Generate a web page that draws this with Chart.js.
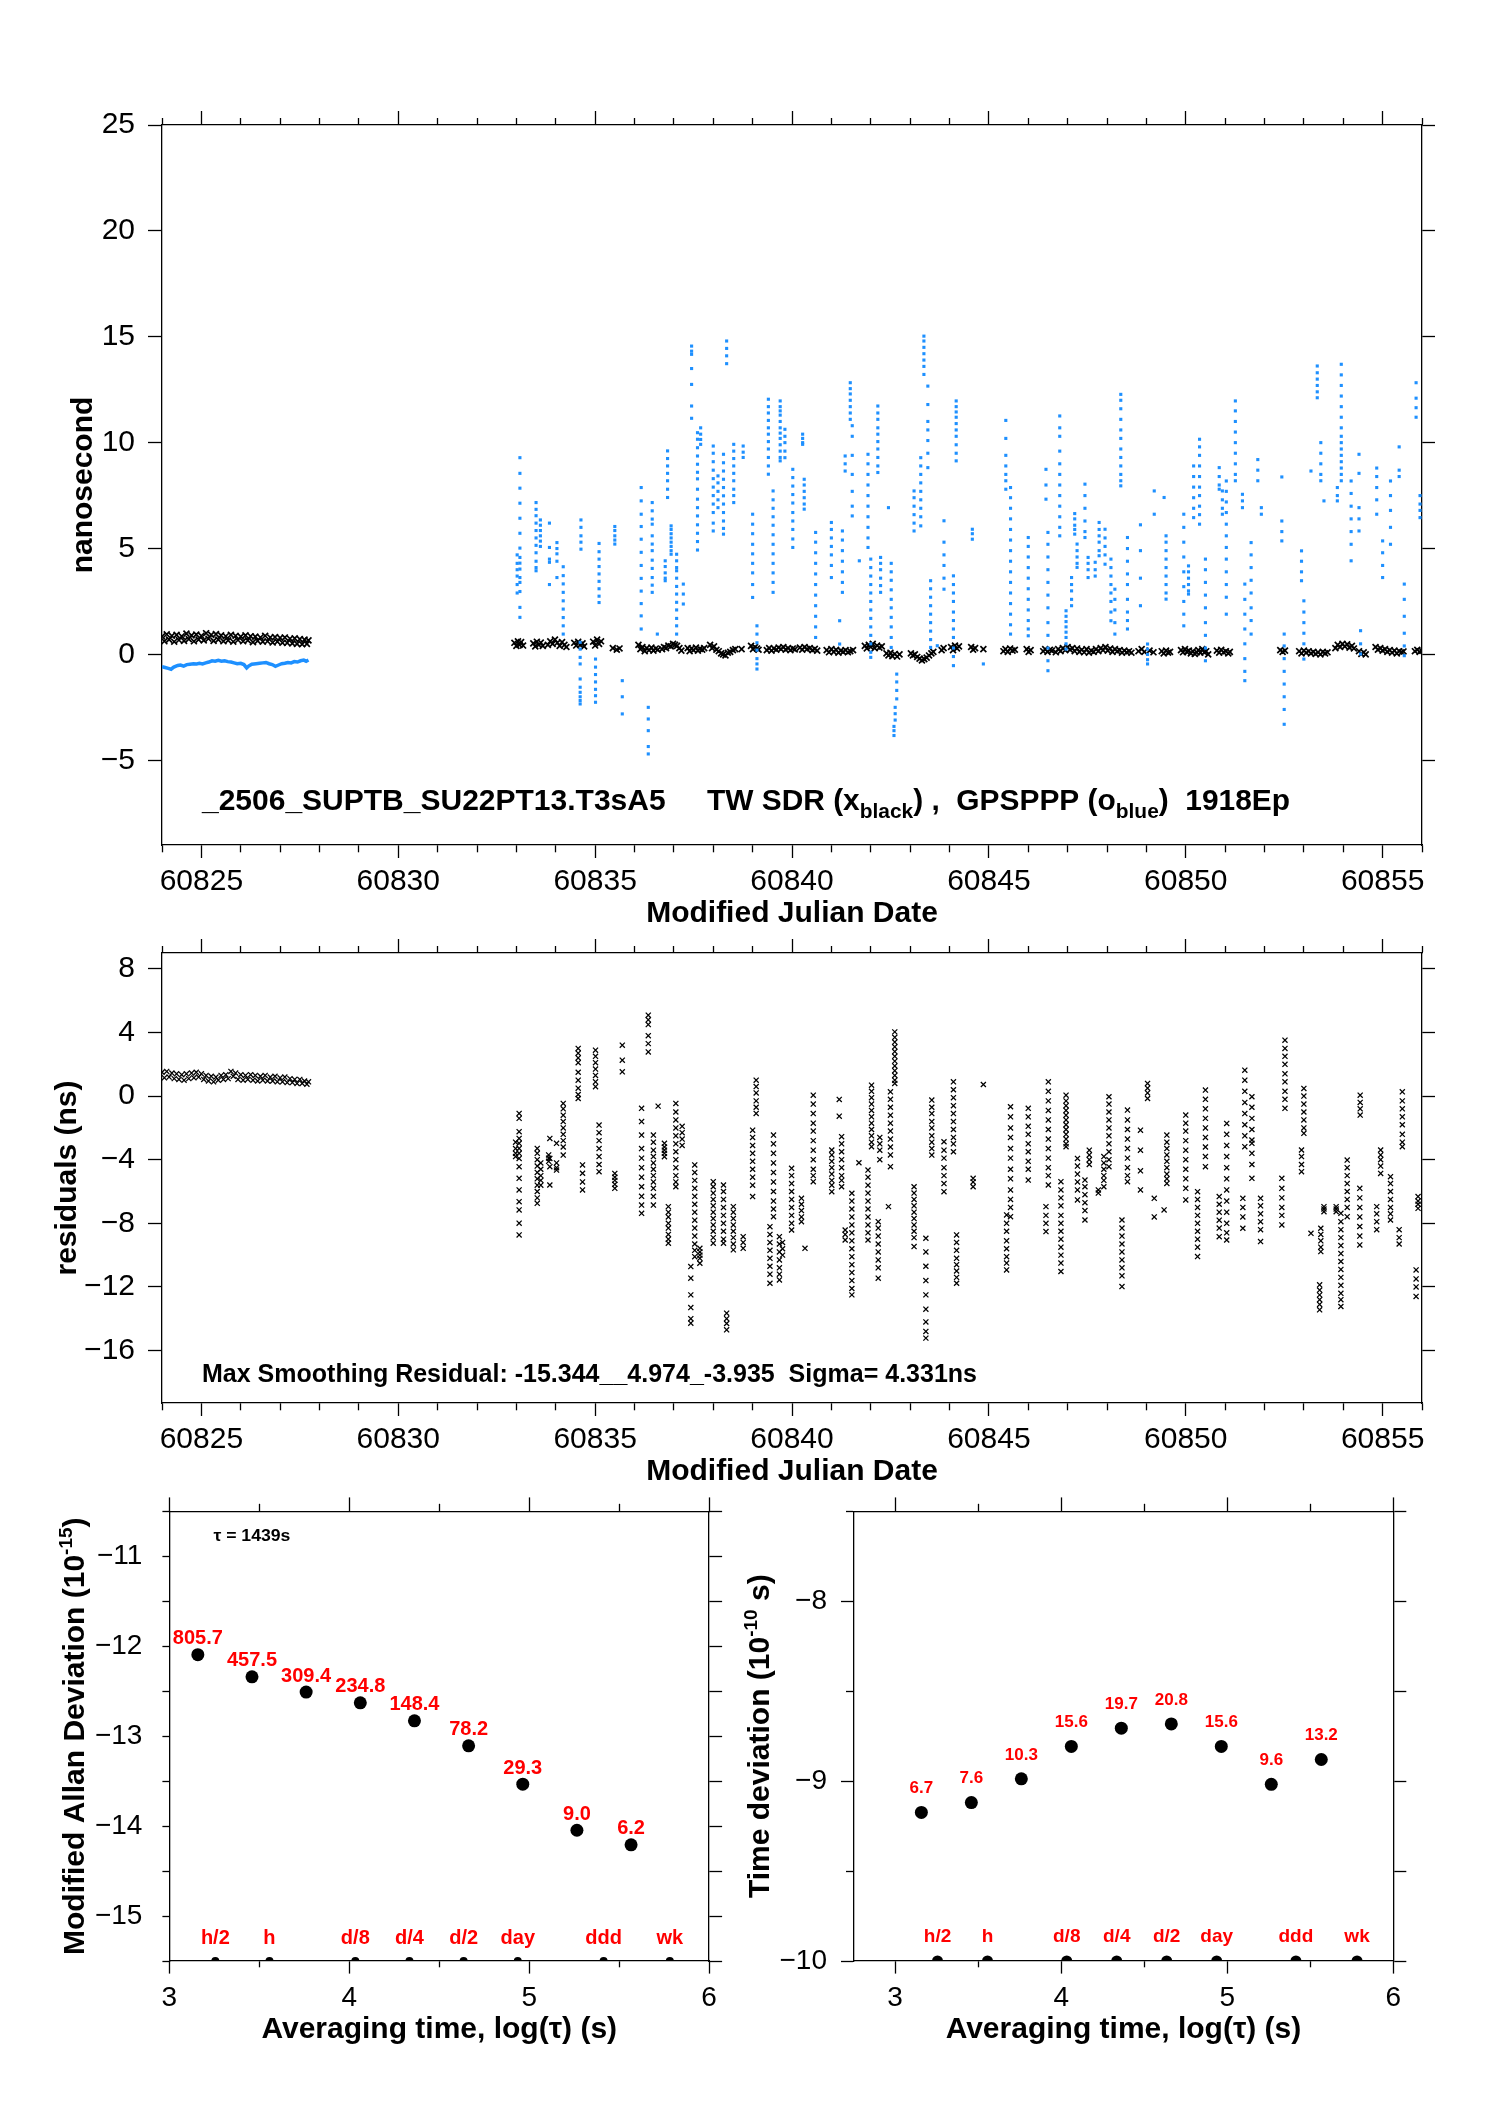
<!DOCTYPE html>
<html><head><meta charset="utf-8">
<script src="https://cdn.jsdelivr.net/npm/chart.js@4.4.1/dist/chart.umd.min.js"></script>
<style>
html,body{margin:0;padding:0;background:#fff;}
body{width:1488px;height:2105px;position:relative;overflow:hidden;}
canvas{position:absolute;}
</style></head><body>
<canvas id="c1" width="1488" height="960" style="left:0px;top:0px"></canvas>
<canvas id="c2" width="1488" height="640" style="left:0px;top:860px"></canvas>
<canvas id="c3" width="744" height="665" style="left:0px;top:1440px"></canvas>
<canvas id="c4" width="788" height="665" style="left:700px;top:1440px"></canvas>
<script>
// ---------------- DATA ----------------
// Top panel: GPSPPP (blue) early dense band [mjd, ns]
const gpsEarly = [[60824.00,-0.58],[60824.08,-0.62],[60824.16,-0.66],[60824.23,-0.70],[60824.30,-0.60],[60824.40,-0.52],[60824.47,-0.50],[60824.55,-0.55],[60824.63,-0.48],[60824.71,-0.46],[60824.80,-0.44],[60824.88,-0.45],[60824.95,-0.42],[60825.03,-0.45],[60825.11,-0.40],[60825.19,-0.36],[60825.27,-0.30],[60825.35,-0.32],[60825.43,-0.28],[60825.51,-0.32],[60825.59,-0.30],[60825.67,-0.34],[60825.75,-0.36],[60825.83,-0.40],[60825.91,-0.44],[60826.00,-0.42],[60826.08,-0.48],[60826.15,-0.64],[60826.20,-0.55],[60826.28,-0.46],[60826.39,-0.44],[60826.48,-0.42],[60826.56,-0.40],[60826.64,-0.38],[60826.72,-0.44],[60826.80,-0.48],[60826.88,-0.56],[60826.96,-0.50],[60827.04,-0.44],[60827.12,-0.42],[60827.20,-0.38],[60827.28,-0.40],[60827.36,-0.34],[60827.44,-0.36],[60827.52,-0.30],[60827.60,-0.27],[60827.66,-0.32],[60827.72,-0.26]];
// Top panel: GPSPPP streaks, each [mjd, ns values...]
const gpsStreaks = [
[60833.09,9.29,8.55,7.85,7.14,6.43,5.72,5.02,4.58,4.31,4.03,3.63,3.40,2.97,2.22,1.75],
[60833.02,4.70,4.30,4.00,3.70,3.30,2.90],
[60833.50,7.17,6.85,6.55,6.20,5.85,5.50,5.15,4.80,4.40,4.10,3.95],
[60833.61,6.35,6.10,5.85,5.60,5.35,5.10],
[60833.84,6.20,5.05,4.50,4.35,3.30],
[60834.03,5.28,5.00,4.75,4.40,3.63],
[60834.19,4.14,3.72,3.33,2.93,2.53,2.14,1.74,1.35,0.96],
[60834.64,6.35,6.00,5.60,5.30,4.97],
[60834.62,0.57,0.25,-0.14,-0.45,-1.16,-1.55,-1.79,-2.00,-2.18,-2.34],
[60835.10,5.24,4.85,4.50,4.15,3.80,3.45,3.10,2.75,2.45],
[60835.01,-0.22,-0.60,-0.95,-1.30,-1.65,-1.95,-2.26],
[60835.50,6.04,5.85,5.60,5.40,5.21],
[60835.69,-1.24,-2.00,-2.81],
[60836.17,7.88,7.25,6.62,6.04,5.44,4.82,4.20,3.59,2.99,2.40,1.82,1.20],
[60836.35,-2.50,-3.05,-3.60,-4.35,-4.70],
[60836.45,7.17,6.78,6.39,6.15,5.60,5.21,4.90,4.45,4.06,3.63,3.27,2.93],
[60836.58,0.96],
[60836.78,4.42,4.15,3.85,3.60,3.48],
[60836.84,9.61,9.25,8.90,8.55,8.20,7.80,7.41],
[60836.93,6.07,5.90,5.70,5.50,5.30,5.10,4.90,4.73],
[60837.07,4.73,4.42,4.10,3.95,3.60,3.21,2.85,2.46,2.10,1.70,1.35,0.96],
[60837.24,3.32,2.85,2.38],
[60837.45,14.56,14.32,14.17,13.50,12.75,11.73,11.15],
[60837.60,10.47,10.16,9.76,9.37,8.98,8.60,8.29,7.80,7.33,6.93,6.54,6.12,5.72,5.33,4.93],
[60837.68,10.70,10.40,10.15,9.92],
[60838.00,9.84,9.50,9.10,8.70,8.30,7.90,7.50,7.10,6.70,6.20,5.83],
[60838.12,8.43,8.10,7.70,7.30,6.93],
[60838.26,9.45,9.05,8.66,8.27,7.88,7.49,7.10,6.70,6.30,5.95,5.68],
[60838.34,14.80,14.45,14.10,13.73],
[60838.52,9.92,9.60,9.25,8.90,8.55,8.20,7.80,7.50,7.17],
[60838.76,9.84,9.55,9.30],
[60839.00,6.62,6.15,5.70,5.20,4.75,4.30,3.85,3.30,2.69],
[60839.11,1.35,0.96,0.55,0.20,-0.20,-0.45,-0.69],
[60839.40,12.05,11.70,11.40,11.05,10.70,10.40,10.05,9.70,9.30,8.90,8.51],
[60839.52,7.72,7.30,6.90,6.50,6.10,5.65,5.20,4.75,4.30,3.85,3.40,2.93],
[60839.70,11.97,11.70,11.50,11.30,11.00,10.70,10.45,10.20,9.90,9.60,9.30,9.14],
[60839.82,10.63,10.30,10.00,9.60,9.29],
[60840.02,8.74,8.35,7.95,7.55,7.15,6.70,6.30,5.90,5.45,5.05],
[60840.27,10.40,10.20,10.00,9.92],
[60840.31,8.27,8.00,7.70,7.40,7.10,6.86],
[60840.60,5.76,5.30,4.80,4.30,3.80,3.30,2.80,2.30,1.80,1.30,0.80],
[60841.00,6.23,5.90,5.50,5.10,4.70,4.20,3.63],
[60841.21,1.59,0.49],
[60841.28,5.83,5.40,4.90,4.40,3.90,3.40,2.93],
[60841.35,9.37,9.00,8.66],
[60841.48,12.83,12.55,12.30,12.00,11.70,11.40,11.10],
[60841.53,10.80,10.30,9.40,8.50,7.70,7.00,6.54],
[60841.71,4.42],
[60841.93,9.45,9.00,8.50,8.00,7.50,7.00,6.50,6.00,5.50,5.05],
[60842.00,4.50,4.10,3.70,3.30,2.90,2.50,2.10,1.70,1.30,0.90,0.50,0.10,-0.14],
[60842.18,11.73,11.40,11.10,10.70,10.40,10.05,9.70,9.30,8.90,8.59],
[60842.25,4.58,4.30,4.00,3.60,3.25,2.93],
[60842.45,6.93],
[60842.52,4.30,3.90,3.50,3.05,2.60,2.20,1.75,1.30,0.80,0.33],
[60842.66,-0.93,-1.30,-1.70,-2.10],
[60842.62,-2.50,-2.80,-3.10],
[60842.59,-3.40,-3.60,-3.83],
[60843.10,7.72,7.40,7.00,6.60,6.20,5.83],
[60843.27,9.29,8.90,8.50,8.10,7.70,7.30,6.90,6.50,6.07],
[60843.35,15.03,14.80,14.50,14.20,13.90,13.60,13.22],
[60843.45,12.67,11.80,11.00,10.60,10.10,9.50,8.82],
[60843.52,3.48,3.10,2.70,2.30,1.90,1.50,1.10,0.70,0.33],
[60843.69,0.41],
[60843.86,6.31,5.30,4.70,4.20,3.60,3.08],
[60844.10,3.71,3.30,2.90,2.50,2.00,1.60,1.20,0.80,0.30,-0.10,-0.53],
[60844.17,11.97,11.70,11.45,11.20,10.90,10.60,10.30,9.90,9.50,9.14],
[60844.58,5.91,5.70,5.44],
[60844.86,-0.45],
[60845.43,11.05,10.20,9.40,8.90,8.50,8.20,7.80],
[60845.55,7.88,7.40,6.90,6.40,5.90,5.40,4.90,4.40,3.90,3.40,2.90,2.40,1.90,1.40,0.96],
[60846.00,5.52,5.10,4.60,4.10,3.60,3.10,2.60,2.10,1.60,1.20,0.88],
[60846.45,8.74,8.00,7.33],
[60846.50,5.76,5.20,4.60,4.00,3.40,2.80,2.20,1.50,0.90,0.30,-0.30,-0.77],
[60846.80,11.26,10.70,10.30,9.60,9.00,8.50,8.00,7.50,7.00,6.50,6.00,5.60],
[60846.96,2.06,1.80,1.55,1.30,1.05,0.80,0.50,0.25],
[60847.10,3.63,3.30,3.00,2.60,2.30],
[60847.18,6.65,6.40,6.10,5.90,5.68],
[60847.24,5.21,4.90,4.60,4.30,4.11],
[60847.44,8.04,7.50,6.90,6.30,5.80,5.52],
[60847.52,4.58,4.30,4.00,3.63],
[60847.70,4.35,4.00,3.70],
[60847.80,6.23,5.90,5.60,5.30,4.90,4.66],
[60847.95,5.91,5.50,5.10,4.70,4.26],
[60848.10,4.50,4.10,3.70,3.30,2.90,2.50,2.00,1.59],
[60848.20,3.08,2.60,2.10,1.50,0.96],
[60848.35,12.28,12.00,11.60,11.10,10.60,10.20,9.70,9.30,8.90,8.50,8.20,7.96],
[60848.52,5.52,5.00,4.40,3.80,3.30,2.60,2.00,1.60,1.20],
[60848.85,6.12,4.90,3.60,2.30],
[60849.03,0.49,0.25,0.00,-0.25,-0.45],
[60849.20,7.72,6.62],
[60849.45,7.41],
[60849.50,5.60,5.30,4.90,4.50,4.10,3.70,3.30,2.90,2.61],
[60849.95,6.62,6.00,5.30,4.60,3.90,3.20,2.50,1.90,1.35],
[60850.07,4.18,3.90,3.60,3.30,3.00,2.85],
[60850.20,8.90,8.40,7.90,7.40,6.90,6.46],
[60850.35,10.16,9.80,9.40,8.90,8.40,7.90,7.50,7.00,6.60,6.15],
[60850.50,4.50,4.00,3.40,2.80,2.20,1.50,0.90,0.30,-0.30],
[60850.85,8.82,8.40,8.00,7.80],
[60850.93,7.72,7.30,6.90,6.62],
[60851.03,8.19,7.70,7.20,6.70,6.15,5.60,5.05,4.50,3.90,3.30,2.70,1.90],
[60851.26,11.97,11.50,11.00,10.50,10.00,9.50,9.00,8.50,8.20],
[60851.44,7.56,7.25,6.93],
[60851.50,3.32,2.60,1.90,1.20,0.50,-0.20,-0.80,-1.24],
[60851.66,5.28,4.70,4.10,3.50,2.90,2.20,1.60,0.96],
[60851.83,9.20,8.70,8.20],
[60851.92,6.93,6.62],
[60852.44,8.38,6.30,5.80,5.36],
[60852.50,0.96,0.40,-0.20,-0.80,-1.40,-2.00,-2.60,-3.30],
[60852.94,4.89,4.40,3.90,3.48],
[60853.00,2.53,2.00,1.50,1.00,0.50,-0.22],
[60853.18,8.66],
[60853.34,13.62,13.30,13.00,12.70,12.40,12.12],
[60853.43,10.00,9.50,9.00,8.50,8.20],
[60853.51,7.25],
[60853.85,7.88,7.50,7.25],
[60853.95,13.70,13.20,12.70,12.20,11.70,11.20,10.70,10.30,10.00,9.70,9.40,9.10,8.80,8.50,8.20],
[60854.20,8.19,7.60,7.00,6.40,5.80,5.20,4.42],
[60854.40,9.45,8.55,6.93,6.40,5.83],
[60854.44,1.12,0.50,0.02],
[60854.85,8.80,8.40,7.88,7.30,6.62],
[60855.00,5.36,4.80,4.20,3.63],
[60855.20,8.19,7.50,6.80,6.00,5.20],
[60855.42,9.80,8.70,8.40],
[60855.55,3.32,2.60,1.80,1.00,0.40,-0.06],
[60855.85,12.83,12.10,11.65,11.20],
[60855.95,7.50,7.10,6.80,6.46]
];
// Top panel: TW SDR (black x) [mjd, ns]
const sdrEarly = [[60824.00,0.85],[60824.06,0.62],[60824.12,0.95],[60824.18,0.70],[60824.25,0.88],[60824.31,0.60],[60824.37,0.92],[60824.43,0.68],[60824.50,0.86],[60824.56,0.64],[60824.62,0.98],[60824.68,0.72],[60824.75,0.90],[60824.81,0.62],[60824.87,0.94],[60824.93,0.70],[60825.00,0.88],[60825.06,0.66],[60825.12,1.00],[60825.18,0.74],[60825.25,0.92],[60825.31,0.64],[60825.37,0.96],[60825.43,0.70],[60825.50,0.90],[60825.56,0.62],[60825.62,0.86],[60825.68,0.66],[60825.75,0.92],[60825.81,0.60],[60825.87,0.88],[60825.93,0.68],[60826.00,0.84],[60826.06,0.62],[60826.12,0.90],[60826.18,0.66],[60826.25,0.86],[60826.31,0.58],[60826.37,0.84],[60826.43,0.64],[60826.50,0.80],[60826.56,0.60],[60826.62,0.88],[60826.68,0.62],[60826.75,0.80],[60826.81,0.56],[60826.87,0.82],[60826.93,0.60],[60827.00,0.78],[60827.06,0.55],[60827.12,0.80],[60827.18,0.54],[60827.25,0.74],[60827.31,0.52],[60827.37,0.76],[60827.43,0.50],[60827.50,0.72],[60827.56,0.48],[60827.62,0.70],[60827.68,0.50],[60827.72,0.66]];
const sdrLater = [[60832.95,0.55],[60833.00,0.40],[60833.04,0.62],[60833.08,0.45],[60833.12,0.58],[60833.17,0.42],
[60833.43,0.52],[60833.48,0.38],[60833.52,0.60],[60833.57,0.45],[60833.62,0.56],[60833.67,0.40],
[60833.80,0.45],[60833.86,0.62],[60833.92,0.50],[60833.98,0.70],[60834.04,0.55],[60834.10,0.40],[60834.16,0.58],[60834.22,0.45],[60834.27,0.35],
[60834.47,0.55],[60834.52,0.42],[60834.57,0.60],[60834.62,0.45],[60834.68,0.52],[60834.72,0.38],
[60834.95,0.60],[60835.00,0.42],[60835.05,0.70],[60835.10,0.50],[60835.15,0.62],
[60835.45,0.30],[60835.55,0.22],[60835.62,0.28],
[60836.10,0.45],[60836.15,0.25],[60836.20,0.35],[60836.26,0.15],[60836.31,0.30],[60836.37,0.20],[60836.43,0.32],[60836.48,0.18],[60836.54,0.28],[60836.59,0.22],
[60836.70,0.25],[60836.75,0.35],[60836.80,0.30],[60836.86,0.42],[60836.92,0.38],[60836.98,0.50],[60837.03,0.45],[60837.08,0.40],[60837.14,0.30],[60837.19,0.18],
[60837.35,0.30],[60837.40,0.15],[60837.45,0.28],[60837.50,0.20],[60837.56,0.32],[60837.61,0.18],[60837.66,0.26],[60837.72,0.22],[60837.77,0.30],
[60837.92,0.45],[60837.97,0.30],[60838.02,0.38],[60838.08,0.22],[60838.14,0.15],[60838.20,0.05],[60838.25,0.00],[60838.31,-0.05],[60838.37,0.08],[60838.43,0.12],[60838.50,0.20],[60838.56,0.25],
[60838.72,0.25],
[60838.96,0.40],[60839.01,0.25],[60839.06,0.35],[60839.11,0.28],[60839.15,0.22],
[60839.36,0.20],[60839.42,0.30],[60839.48,0.18],[60839.54,0.28],[60839.60,0.22],[60839.66,0.32],[60839.72,0.25],[60839.78,0.35],[60839.84,0.22],[60839.90,0.30],[60839.96,0.20],[60840.02,0.28],[60840.07,0.24],
[60840.20,0.32],[60840.26,0.22],[60840.32,0.35],[60840.38,0.25],[60840.45,0.30],[60840.52,0.20],[60840.58,0.26],[60840.64,0.18],
[60840.88,0.20],[60840.94,0.10],[60841.00,0.25],[60841.06,0.12],[60841.12,0.22],[60841.18,0.08],[60841.24,0.18],[60841.30,0.12],[60841.36,0.20],[60841.42,0.10],[60841.48,0.15],[60841.55,0.20],
[60841.85,0.40],[60841.90,0.28],[60841.95,0.45],[60842.00,0.35],[60842.05,0.50],[60842.10,0.30],[60842.16,0.42],[60842.22,0.32],[60842.28,0.38],
[60842.40,0.05],[60842.45,-0.05],[60842.50,0.08],[60842.55,-0.08],[60842.61,0.02],[60842.67,-0.10],[60842.73,0.00],
[60843.02,0.05],[60843.07,-0.05],[60843.12,0.00],[60843.18,-0.12],[60843.24,-0.20],[60843.30,-0.28],[60843.36,-0.22],[60843.42,-0.15],[60843.48,-0.05],[60843.54,0.05],[60843.59,0.12],
[60843.80,0.20],[60843.85,0.30],
[60844.04,0.35],[60844.09,0.20],[60844.14,0.42],[60844.19,0.28],[60844.24,0.38],
[60844.55,0.35],[60844.60,0.22],[60844.65,0.30],[60844.86,0.25],
[60845.37,0.15],[60845.42,0.25],[60845.48,0.12],[60845.54,0.28],[60845.60,0.18],[60845.66,0.22],
[60845.96,0.25],[60846.01,0.12],[60846.06,0.20],
[60846.38,0.15],[60846.43,0.25],[60846.49,0.12],[60846.55,0.22],[60846.60,0.18],
[60846.70,0.10],[60846.76,0.25],[60846.82,0.15],[60846.88,0.30],[60846.94,0.20],[60847.00,0.35],[60847.06,0.22],[60847.12,0.30],[60847.18,0.15],[60847.24,0.28],[60847.30,0.12],[60847.36,0.22],[60847.42,0.10],[60847.48,0.25],[60847.54,0.08],[60847.60,0.18],[60847.66,0.12],[60847.72,0.25],[60847.78,0.15],[60847.84,0.30],[60847.90,0.20],[60847.96,0.35],[60848.02,0.18],[60848.08,0.28],[60848.14,0.12],[60848.20,0.25],[60848.26,0.15],[60848.32,0.20],[60848.38,0.08],[60848.44,0.18],[60848.50,0.10],[60848.56,0.15],[60848.62,0.08],
[60848.80,0.15],[60848.88,0.25],[60848.95,0.12],[60849.08,0.18],[60849.18,0.10],
[60849.39,0.15],[60849.44,0.05],[60849.50,0.18],[60849.55,0.08],[60849.60,0.12],
[60849.88,0.20],[60849.93,0.10],[60849.98,0.25],[60850.03,0.12],[60850.08,0.18],[60850.13,0.05],[60850.18,0.15],[60850.23,0.02],[60850.28,0.10],
[60850.32,0.20],[60850.37,0.08],[60850.42,0.25],[60850.47,0.10],[60850.52,0.15],[60850.57,0.00],
[60850.79,0.18],[60850.85,0.08],[60850.90,0.22],[60850.96,0.10],[60851.02,0.15],[60851.08,0.05],[60851.12,0.12],
[60852.40,0.20],[60852.46,0.12],[60852.52,0.18],
[60852.88,0.15],[60852.94,0.05],[60853.00,0.18],[60853.06,0.08],[60853.12,0.15],[60853.18,0.05],[60853.24,0.12],[60853.30,0.02],[60853.36,0.10],[60853.42,0.00],[60853.48,0.12],[60853.54,0.05],[60853.60,0.10],
[60853.80,0.30],[60853.86,0.45],[60853.92,0.35],[60853.98,0.50],[60854.04,0.38],[60854.10,0.48],[60854.16,0.32],[60854.22,0.40],[60854.27,0.28],
[60854.40,0.15],[60854.46,0.02],[60854.52,0.10],[60854.57,0.00],
[60854.82,0.35],[60854.88,0.22],[60854.94,0.30],[60855.00,0.18],[60855.06,0.25],[60855.12,0.12],[60855.18,0.20],[60855.24,0.08],[60855.30,0.18],[60855.36,0.05],[60855.42,0.15],[60855.48,0.10],[60855.53,0.14],
[60855.82,0.15],[60855.88,0.22],[60855.94,0.12],[60855.99,0.18]];
// Middle panel: smoothing residuals (ns)
const resEarly = [[60824.00,1.50],[60824.06,1.15],[60824.12,1.55],[60824.18,1.20],[60824.25,1.45],[60824.31,1.10],[60824.37,1.40],[60824.43,1.05],[60824.50,1.35],[60824.56,1.00],[60824.62,1.40],[60824.68,1.10],[60824.75,1.45],[60824.81,1.15],[60824.87,1.50],[60824.93,1.20],[60825.00,1.40],[60825.06,1.05],[60825.12,1.30],[60825.18,0.95],[60825.25,1.25],[60825.31,0.90],[60825.37,1.20],[60825.43,1.00],[60825.50,1.30],[60825.56,1.05],[60825.62,1.35],[60825.68,1.10],[60825.75,1.55],[60825.81,1.25],[60825.87,1.45],[60825.93,1.05],[60826.00,1.35],[60826.06,1.00],[60826.12,1.30],[60826.18,1.05],[60826.25,1.35],[60826.31,1.00],[60826.37,1.30],[60826.43,0.95],[60826.50,1.25],[60826.56,1.00],[60826.62,1.30],[60826.68,0.95],[60826.75,1.20],[60826.81,0.95],[60826.87,1.25],[60826.93,0.90],[60827.00,1.15],[60827.06,0.90],[60827.12,1.20],[60827.18,0.85],[60827.25,1.10],[60827.31,0.85],[60827.37,1.05],[60827.43,0.80],[60827.50,1.05],[60827.56,0.80],[60827.62,0.95],[60827.68,0.75],[60827.72,0.90]];
const resStreaks = [
[60832.98,-2.90,-3.30,-3.60,-3.80],
[60833.07,-1.09,-1.40,-2.24,-2.66,-2.97,-3.29,-3.60,-3.92,-4.44,-5.17,-5.90,-6.64,-7.16,-7.99,-8.73],
[60833.53,-3.29,-3.60,-4.00,-4.40,-4.80,-5.20,-5.60,-6.00,-6.40,-6.74],
[60833.62,-4.20,-4.60,-5.00,-5.30,-5.60],
[60833.85,-2.66,-3.92,-4.44,-5.59],
[60833.82,-3.70,-3.90,-4.10],
[60834.02,-2.97,-4.20,-4.50,-4.65],
[60834.19,-0.46,-0.80,-1.20,-1.60,-2.00,-2.40,-2.80,-3.20,-3.71],
[60834.57,3.00,2.70,2.40,2.10,1.50,1.00,0.50,0.10,-0.15],
[60834.68,-4.33,-4.85,-5.40,-5.90],
[60835.01,2.89,2.50,2.10,1.70,1.30,0.90,0.59],
[60835.10,-1.82,-2.30,-2.80,-3.30,-3.80,-4.30,-4.75],
[60835.50,-4.86,-5.10,-5.30,-5.55,-5.80],
[60835.69,3.20,2.26,1.53],
[60836.18,-0.77,-1.60,-2.45,-3.30,-3.90,-4.50,-5.10,-5.70,-6.30,-6.85,-7.37],
[60836.35,5.09,4.80,4.50,3.80,3.30,2.78],
[60836.48,-2.45,-2.90,-3.40,-3.80,-4.20,-4.60,-5.00,-5.40,-5.80,-6.30,-6.85],
[60836.60,-0.63],
[60836.76,-2.97,-3.20,-3.40,-3.60,-3.81],
[60836.86,-6.95,-7.30,-7.60,-8.00,-8.30,-8.70,-9.00,-9.25],
[60837.05,-0.46,-1.00,-1.50,-2.00,-2.50,-3.00,-3.50,-4.00,-4.50,-5.00,-5.40,-5.70],
[60837.21,-1.90,-2.30,-2.70,-3.10],
[60837.43,-10.72,-11.45,-12.50,-13.30,-14.00,-14.28],
[60837.53,-4.33,-4.80,-5.30,-5.80,-6.30,-6.80,-7.30,-7.80,-8.30,-8.80,-9.30,-9.70,-10.10],
[60837.66,-9.57,-9.80,-10.00,-10.20,-10.51],
[60838.00,-5.38,-5.70,-6.10,-6.50,-6.90,-7.30,-7.70,-8.10,-8.50,-8.90,-9.25],
[60838.26,-5.59,-6.00,-6.50,-7.00,-7.50,-8.00,-8.50,-9.00,-9.25],
[60838.34,-13.65,-14.00,-14.30,-14.70],
[60838.51,-6.95,-7.30,-7.70,-8.10,-8.50,-8.90,-9.30,-9.67],
[60838.76,-8.84,-9.20,-9.57],
[60839.00,-2.14,-2.60,-3.10,-3.60,-4.10,-4.60,-5.10,-5.60,-6.32],
[60839.09,1.00,0.60,0.20,-0.30,-0.70,-1.09],
[60839.44,-8.21,-8.70,-9.20,-9.70,-10.20,-10.70,-11.20,-11.77],
[60839.53,-2.45,-3.00,-3.60,-4.20,-4.80,-5.40,-6.00,-6.60,-7.10,-7.58],
[60839.68,-8.84,-9.30,-9.80,-10.30,-10.80,-11.20,-11.56],
[60839.76,-9.20,-9.60,-10.00],
[60839.99,-4.54,-5.00,-5.50,-6.00,-6.50,-7.00,-7.50,-8.00,-8.42],
[60840.24,-6.43,-6.80,-7.20,-7.60,-7.90],
[60840.33,-9.57],
[60840.54,0.06,-0.50,-1.10,-1.70,-2.20,-2.80,-3.40,-4.00,-4.60,-5.00,-5.38],
[60841.01,-3.39,-3.70,-4.10,-4.50,-4.90,-5.30,-5.60,-6.01],
[60841.20,-0.21,-1.26],
[60841.26,-2.55,-3.00,-3.50,-4.00,-4.50,-5.00,-5.30,-5.70],
[60841.35,-8.42,-8.70,-9.05],
[60841.52,-6.11,-6.60,-7.10,-7.60,-8.10,-8.60,-9.10,-9.60,-10.10,-10.60,-11.10,-11.60,-12.10,-12.50],
[60841.70,-4.19],
[60841.93,-4.65,-5.10,-5.60,-6.10,-6.60,-7.10,-7.60,-8.10,-8.60,-9.05],
[60842.02,0.69,0.30,-0.10,-0.50,-0.90,-1.30,-1.70,-2.10,-2.50,-2.90,-3.18],
[60842.19,-7.90,-8.30,-8.80,-9.30,-9.80,-10.30,-10.80,-11.45],
[60842.23,-2.60,-3.00,-3.40,-4.00],
[60842.45,-6.95],
[60842.50,0.27,-0.20,-0.70,-1.20,-1.70,-2.20,-2.70,-3.20,-3.70,-4.44],
[60842.61,4.04,3.70,3.40,3.10,2.80,2.50,2.20,1.90,1.60,1.30,1.00,0.80],
[60843.10,-5.70,-6.10,-6.50,-6.90,-7.30,-7.70,-8.10,-8.50,-8.90,-9.46],
[60843.40,-8.94,-9.80,-10.70,-11.60,-12.50,-13.40,-14.20,-14.80,-15.22],
[60843.55,-0.25,-0.70,-1.10,-1.60,-2.00,-2.50,-2.90,-3.30,-3.71],
[60843.86,-2.87,-3.40,-3.90,-4.50,-5.00,-5.50,-6.01],
[60844.10,0.90,0.40,-0.10,-0.60,-1.10,-1.60,-2.10,-2.60,-3.00,-3.50],
[60844.18,-8.73,-9.20,-9.70,-10.20,-10.60,-11.00,-11.40,-11.77],
[60844.60,-5.17,-5.40,-5.70],
[60844.86,0.73],
[60845.45,-7.47,-8.00,-8.50,-9.10,-9.60,-10.10,-10.50,-10.93],
[60845.55,-0.67,-1.30,-2.00,-2.60,-3.30,-3.90,-4.60,-5.20,-5.90,-6.50,-7.00,-7.58],
[60846.00,-0.77,-1.30,-1.90,-2.40,-3.00,-3.50,-4.10,-4.60,-5.28],
[60846.45,-6.95,-7.50,-8.00,-8.52],
[60846.51,0.90,0.30,-0.30,-0.90,-1.50,-2.10,-2.70,-3.30,-3.90,-4.50,-5.00,-5.59],
[60846.83,-5.38,-5.90,-6.40,-6.90,-7.50,-8.00,-8.50,-9.00,-9.50,-10.00,-10.50,-11.03],
[60846.96,0.06,-0.30,-0.60,-0.90,-1.20,-1.50,-1.80,-2.10,-2.40,-2.70,-3.00,-3.18],
[60847.25,-3.92,-4.40,-4.90,-5.40,-5.90,-6.53],
[60847.44,-5.28,-5.70,-6.20,-6.70,-7.20,-7.79],
[60847.55,-3.40,-3.70,-4.00,-4.30],
[60847.78,-5.90,-6.10],
[60847.92,-3.80,-4.20,-4.60,-5.00,-5.30,-5.70],
[60848.05,-0.04,-0.50,-1.00,-1.50,-2.00,-2.50,-3.00,-3.50,-4.00,-4.44],
[60848.38,-7.79,-8.30,-8.80,-9.30,-9.80,-10.30,-10.80,-11.30,-11.98],
[60848.52,-0.88,-1.50,-2.10,-2.70,-3.30,-3.90,-4.50,-5.00,-5.38],
[60848.85,-2.14,-3.40,-4.70,-5.90],
[60849.03,0.80,0.50,0.20,-0.15],
[60849.20,-6.43,-7.60],
[60849.45,-7.16],
[60849.52,-2.45,-2.90,-3.30,-3.70,-4.10,-4.50,-4.90,-5.20,-5.49],
[60850.00,-1.19,-1.70,-2.20,-2.80,-3.40,-4.00,-4.60,-5.20,-5.80,-6.53],
[60850.30,-6.01,-6.50,-7.00,-7.50,-8.00,-8.50,-9.00,-9.50,-10.09],
[60850.50,0.38,-0.20,-0.80,-1.40,-2.00,-2.60,-3.20,-3.80,-4.44],
[60850.85,-6.32,-6.80,-7.30,-7.80,-8.30,-8.84],
[60851.04,-1.72,-2.40,-3.10,-3.80,-4.50,-5.20,-5.90,-6.60,-7.30,-8.00,-8.60,-9.05],
[60851.45,-6.43,-7.00,-7.60,-8.31],
[60851.50,1.63,1.00,0.30,-0.40,-1.10,-1.80,-2.50,-3.18],
[60851.68,-0.04,-0.70,-1.40,-2.10,-2.76,-2.97,-3.60,-4.30,-5.17],
[60851.90,-6.43,-6.90,-7.40,-7.90,-8.40,-9.15],
[60852.44,-5.17,-5.80,-6.40,-7.00,-7.50,-8.10],
[60852.52,3.52,3.00,2.50,2.00,1.40,0.90,0.30,-0.20,-0.77],
[60852.94,-3.39,-3.80,-4.30,-4.75],
[60853.00,0.48,0.00,-0.50,-1.00,-1.50,-2.00,-2.34],
[60853.18,-8.63],
[60853.40,-11.87,-12.20,-12.50,-12.80,-13.10,-13.44],
[60853.43,-8.31,-8.70,-9.10,-9.50,-9.78],
[60853.51,-6.95,-7.10,-7.27],
[60853.82,-6.95,-7.10,-7.27],
[60853.94,-7.37,-7.90,-8.40,-8.90,-9.40,-9.90,-10.40,-10.90,-11.40,-11.90,-12.40,-12.80,-13.23],
[60854.10,-4.02,-4.50,-5.00,-5.50,-6.00,-6.50,-7.00,-7.58],
[60854.43,0.06,-0.40,-0.80,-1.19],
[60854.42,-5.80,-6.40,-7.00,-7.60,-8.20,-8.80,-9.36],
[60854.85,-6.95,-7.40,-7.90,-8.40],
[60854.95,-3.39,-3.70,-4.00,-4.40,-4.86],
[60855.20,-5.07,-5.50,-6.00,-6.50,-7.00,-7.40,-7.79],
[60855.42,-8.40,-8.90,-9.30],
[60855.50,0.27,-0.30,-0.80,-1.30,-1.80,-2.40,-2.90,-3.18],
[60855.85,-10.93,-11.50,-12.00,-12.60],
[60855.90,-6.32,-6.60,-6.80,-7.06]
];
// Bottom panels
const tauSeconds = [1439, 2878, 5756, 11512, 23024, 46048, 92096, 184192, 368384];
const adevValues = [805.7, 457.5, 309.4, 234.8, 148.4, 78.2, 29.3, 9.0, 6.2];   // x 1e-15
const tdevValues = [6.7, 7.6, 10.3, 15.6, 19.7, 20.8, 15.6, 9.6, 13.2];         // x 1e-10 s
const periodNames = ['h/2','h','d/8','d/4','d/2','day','ddd','wk'];
const periodSeconds = [1800, 3600, 10800, 21600, 43200, 86400, 259200, 604800];
// Text
const topNote = '_2506_SUPTB_SU22PT13.T3sA5';
const topLegend = [['TW SDR (x',0],['black',1],[') ,  GPSPPP (o',0],['blue',1],[')  1918Ep',0]];
const resNote = 'Max Smoothing Residual: -15.344__4.974_-3.935  Sigma= 4.331ns';

// ---------------- HELPERS ----------------
const FONT = "'Liberation Sans', Arial, Helvetica, sans-serif";
const BLUE = '#1E90FF';
Chart.defaults.font.family = FONT;
Chart.defaults.color = '#000';
const streakPts = s => s.flatMap(r => r.slice(1).map(v => ({x: r[0], y: v})));
const pairPts = a => a.map(p => ({x: p[0], y: p[1]}));
const isInt = v => Math.abs(v - Math.round(v)) < 1e-6;
const isMult5 = v => Math.abs(v / 5 - Math.round(v / 5)) < 1e-6;
const fmt = v => { const r = Math.round(v * 1000) / 1000; return r < 0 ? '\u2212' + Math.abs(r) : String(r); };
const BORDER = {display: true, color: '#000', width: 1.3};
function gridOpts(tl, isMajor, minorLen, farFirst) {
  const g = {display: true, drawOnChartArea: false, drawTicks: true, tickLength: tl, tickWidth: 1.3, tickColor: '#000', color: '#000'};
  if (isMajor) {
    g.tickBorderDash = c => (c.tick && isMajor(c.tick.value)) ? [] : [minorLen, 1000];
    g.tickBorderDashOffset = c => (!farFirst || (c.tick && isMajor(c.tick.value))) ? 0 : 2 * minorLen + 1000 - tl;
  }
  return g;
}
const fixW = w => s => { s.width = w; };
const fixH = h => s => { s.height = h; };
const baseOpts = {responsive: false, devicePixelRatio: 1, animation: false, layout: {padding: 0},
  plugins: {legend: {display: false}, tooltip: {enabled: false}}, events: []};

function fitText(ctx, text, x, y, width, size) {
  ctx.font = 'bold ' + size + 'px ' + FONT;
  const w = ctx.measureText(text).width;
  ctx.save(); ctx.translate(x, y); ctx.scale(width / w, 1); ctx.fillText(text, 0, 0); ctx.restore();
}
function rotTitle(ctx, cx, cy, main, sup, tail) {
  ctx.save(); ctx.translate(cx, cy); ctx.rotate(-Math.PI / 2);
  ctx.textBaseline = 'alphabetic'; ctx.textAlign = 'left'; ctx.fillStyle = '#000';
  const fM = 'bold 30px ' + FONT, fS = 'bold 19px ' + FONT;
  ctx.font = fM; const w1 = ctx.measureText(main).width, w3 = ctx.measureText(tail).width;
  ctx.font = fS; const w2 = ctx.measureText(sup).width;
  let x = -(w1 + w2 + w3) / 2;
  ctx.font = fM; ctx.fillText(main, x, 10.5); x += w1;
  ctx.font = fS; ctx.fillText(sup, x, -1); x += w2;
  ctx.font = fM; ctx.fillText(tail, x, 10.5);
  ctx.restore();
}

function mjdScales(yMin, yMax, yStep, yTitle, yTitlePad, dims) {
  return {
    x: {type: 'linear', position: 'bottom', min: 60824, max: 60856, border: BORDER,
      ticks: {stepSize: 1, autoSkip: false, maxRotation: 0, minRotation: 0, padding: 6, font: {size: 30, lineHeight: 1.2},
        callback: v => isMult5(v) ? String(v) : ''},
      grid: gridOpts(13, isMult5, 7, false),
      title: {display: true, text: 'Modified Julian Date', font: {size: 30, weight: 'bold', lineHeight: 1.2}, padding: {top: 0, bottom: dims.titleB}},
      afterFit: fixH(dims.bottom)},
    xt: {type: 'linear', position: 'top', min: 60824, max: 60856, border: BORDER,
      ticks: {display: false, stepSize: 1, autoSkip: false},
      grid: gridOpts(14, isMult5, 7, true), afterFit: fixH(dims.top)},
    y: {type: 'linear', position: 'left', min: yMin, max: yMax, border: BORDER,
      ticks: {stepSize: yStep, includeBounds: false, padding: 13, font: {size: 30, lineHeight: 1.2}, callback: fmt},
      grid: gridOpts(14),
      title: {display: true, text: yTitle, font: {size: 30, weight: 'bold', lineHeight: 1.2}, padding: {top: yTitlePad, bottom: 0}},
      afterFit: fixW(162)},
    yr: {type: 'linear', position: 'right', min: yMin, max: yMax, border: BORDER,
      ticks: {display: false, stepSize: yStep, includeBounds: false},
      grid: gridOpts(13), afterFit: fixW(66)}
  };
}

// ---------------- CHART 1 : time differences ----------------
new Chart(document.getElementById('c1'), {
  type: 'scatter',
  data: {datasets: [
    {data: streakPts(gpsStreaks), pointStyle: 'rect', pointRadius: 2.2, backgroundColor: BLUE, borderColor: BLUE, borderWidth: 0, xAxisID: 'x', yAxisID: 'y'},
    {data: pairPts(gpsEarly), showLine: true, borderColor: BLUE, borderWidth: 3.5, pointRadius: 0, xAxisID: 'x', yAxisID: 'y'},
    {data: pairPts(sdrEarly).concat(pairPts(sdrLater)), pointStyle: 'crossRot', pointRadius: 4.2, borderColor: '#000', backgroundColor: '#000', borderWidth: 1.7, xAxisID: 'x', yAxisID: 'y'}
  ]},
  options: Object.assign({}, baseOpts, {scales: mjdScales(-9, 25, 5, 'nanosecond', 66, {bottom: 115, top: 125, titleB: 28})}),
  plugins: [{id: 'note1', afterDatasetsDraw(chart) {
    const ctx = chart.ctx, ca = chart.chartArea;
    ctx.save(); ctx.fillStyle = '#000'; ctx.textAlign = 'left'; ctx.textBaseline = 'alphabetic';
    const base = ca.bottom - 35;
    ctx.font = 'bold 30px ' + FONT; ctx.fillText(topNote, ca.left + 40, base);
    let total = 0;
    const segs = topLegend.map(s => { ctx.font = 'bold ' + (s[1] ? 21 : 30) + 'px ' + FONT; const w = ctx.measureText(s[0]).width; total += w; return {t: s[0], sub: s[1], w}; });
    const x0 = ca.left + 545, sx = (ca.left + 1128 - x0) / total;
    ctx.translate(x0, base); ctx.scale(sx, 1);
    let x = 0;
    segs.forEach(s => { ctx.font = 'bold ' + (s.sub ? 21 : 30) + 'px ' + FONT; ctx.fillText(s.t, x, s.sub ? 8 : 0); x += s.w; });
    ctx.restore();
  }}]
});

// ---------------- CHART 2 : residuals ----------------
new Chart(document.getElementById('c2'), {
  type: 'scatter',
  data: {datasets: [
    {data: pairPts(resEarly).concat(streakPts(resStreaks)), pointStyle: 'crossRot', pointRadius: 3.6, borderColor: '#000', backgroundColor: '#000', borderWidth: 1.25, xAxisID: 'x', yAxisID: 'y'}
  ]},
  options: Object.assign({}, baseOpts, {scales: mjdScales(-19.3, 9, 4, 'residuals (ns)', 50, {bottom: 97, top: 93, titleB: 10})}),
  plugins: [{id: 'note2', afterDatasetsDraw(chart) {
    const ctx = chart.ctx, ca = chart.chartArea;
    ctx.save(); ctx.fillStyle = '#000'; ctx.textAlign = 'left'; ctx.textBaseline = 'alphabetic';
    fitText(ctx, resNote, ca.left + 40, ca.bottom - 21, 775, 25);
    ctx.restore();
  }}]
});

// ---------------- CHARTS 3 & 4 : stability ----------------
function stabChart(id, values, expo, yMin, yMax, dims) {
  const isMajorY = dims.leftMinor ? isInt : null;
  return new Chart(document.getElementById(id), {
    type: 'scatter',
    data: {datasets: [
      {data: values.map((v, i) => ({x: Math.log10(tauSeconds[i]), y: Math.log10(v) + expo})), pointStyle: 'circle', pointRadius: 6.5, backgroundColor: '#000', borderColor: '#000', borderWidth: 0, xAxisID: 'x', yAxisID: 'y'},
      {data: periodSeconds.map(s => ({x: Math.log10(s), y: yMin})), pointStyle: 'circle', pointRadius: dims.markR, backgroundColor: '#000', borderWidth: 0, clip: 0, xAxisID: 'x', yAxisID: 'y'}
    ]},
    options: Object.assign({}, baseOpts, {scales: {
      x: {type: 'linear', position: 'bottom', min: dims.xMin, max: 6, border: BORDER,
        ticks: {stepSize: 0.5, includeBounds: false, autoSkip: false, maxRotation: 0, padding: 8, font: {size: 28, lineHeight: 1.2}, callback: v => isInt(v) ? String(v) : ''},
        grid: gridOpts(12.6, isInt, 6, false),
        title: {display: true, text: 'Averaging time, log(\u03C4) (s)', font: {size: 30, weight: 'bold', lineHeight: 1.2}, padding: {top: 0, bottom: 57}},
        afterFit: fixH(144)},
      xt: {type: 'linear', position: 'top', min: dims.xMin, max: 6, border: BORDER,
        ticks: {display: false, stepSize: 0.5, includeBounds: false, autoSkip: false},
        grid: gridOpts(14, isInt, 7.6, true), afterFit: fixH(71.4)},
      y: {type: 'linear', position: 'left', min: yMin, max: yMax, border: BORDER,
        ticks: {stepSize: 0.5, autoSkip: false, padding: dims.yPad, font: {size: 28, lineHeight: 1.2}, callback: v => isInt(v) ? fmt(v) : ''},
        grid: isMajorY ? gridOpts(12.6, isInt, 7.6, true) : gridOpts(7),
        afterFit: fixW(dims.left)},
      yr: {type: 'linear', position: 'right', min: yMin, max: yMax, border: BORDER,
        ticks: {display: false, stepSize: 0.5, autoSkip: false},
        grid: gridOpts(13), afterFit: fixW(dims.right)}
    }}),
    plugins: [{id: 'lab' + id, afterDatasetsDraw(chart) {
      const ctx = chart.ctx, ca = chart.chartArea, pts = chart.getDatasetMeta(0).data, mk = chart.getDatasetMeta(1).data;
      ctx.save(); ctx.fillStyle = '#f00'; ctx.textAlign = 'center'; ctx.textBaseline = 'middle';
      ctx.font = 'bold ' + dims.valFont + 'px ' + FONT;
      values.forEach((v, i) => ctx.fillText(v.toFixed(1), pts[i].x, pts[i].y - dims.valOff));
      ctx.font = 'bold ' + dims.perFont + 'px ' + FONT;
      periodNames.forEach((n, i) => ctx.fillText(n, mk[i].x, ca.bottom - dims.perOff));
      if (dims.tau) {
        ctx.fillStyle = '#000'; ctx.textAlign = 'left';
        fitText(ctx, '\u03C4 = ' + tauSeconds[0] + 's', ca.left + 44, ca.top + 25, 77, 16);
      }
      rotTitle(ctx, dims.titleX, (ca.top + ca.bottom) / 2, dims.t1, dims.t2, dims.t3);
      ctx.restore();
    }}]
  });
}
stabChart('c3', adevValues, -15, -15.5, -10.5, {xMin: 3, left: 169.4, right: 34.9, yPad: 20, markR: 4, valFont: 20, valOff: 16, perFont: 20, perOff: 23, tau: true, leftMinor: false,
  titleX: 73, t1: 'Modified Allan Deviation (10', t2: '-15', t3: ')'});
stabChart('c4', tdevValues, -10, -10, -7.5, {xMin: 2.75, left: 153.6, right: 94.7, yPad: 14, markR: 5.5, valFont: 17, valOff: 24, perFont: 19, perOff: 24, tau: false, leftMinor: true,
  titleX: 58, t1: 'Time deviation (10', t2: '-10', t3: ' s)'});
</script>
</body></html>
